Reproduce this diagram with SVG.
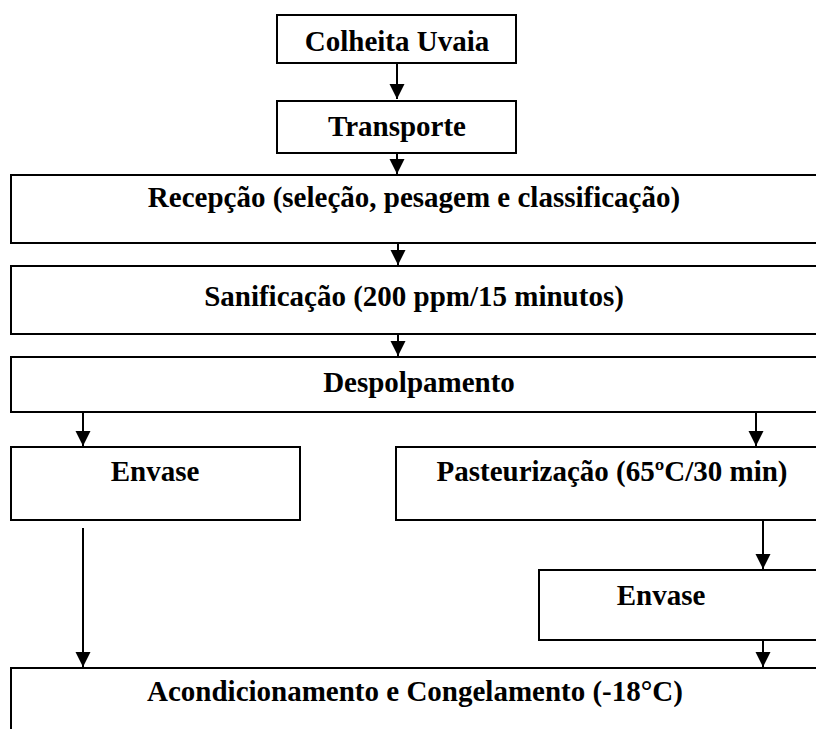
<svg xmlns="http://www.w3.org/2000/svg" width="816" height="729" viewBox="0 0 816 729">
<style>
.box{fill:#fff;stroke:#000;stroke-width:2}
.lbl{font-family:"Liberation Serif","Times New Roman",serif;font-weight:bold;font-size:29px;fill:#000;text-anchor:middle}
.con{stroke:#000;stroke-width:2;fill:none;marker-end:url(#ah)}
</style>
<defs>
<marker id="ah" markerUnits="userSpaceOnUse" markerWidth="16" markerHeight="16" refX="15" refY="7.5" orient="auto">
<path d="M0,0 L15,7.5 L0,15 Z" fill="#000"/>
</marker>
</defs>
<rect width="816" height="729" fill="#fff"/>
<g id="colheita"><rect class="box" x="277" y="15" width="239" height="48"/><text class="lbl" x="397" y="51">Colheita Uvaia</text></g>
<g id="transporte"><rect class="box" x="277" y="101" width="239" height="52"/><text class="lbl" x="397" y="136">Transporte</text></g>
<g id="recepcao"><rect class="box" x="11" y="175" width="830" height="68"/><text class="lbl" x="414" y="207">Recepção (seleção, pesagem e classificação)</text></g>
<g id="sanificacao"><rect class="box" x="11" y="266" width="830" height="68"/><text class="lbl" x="414" y="306">Sanificação (200 ppm/15 minutos)</text></g>
<g id="despolpamento"><rect class="box" x="11" y="357" width="830" height="55"/><text class="lbl" x="419" y="392">Despolpamento</text></g>
<g id="envase1"><rect class="box" x="11" y="447" width="289" height="73"/><text class="lbl" x="155" y="481">Envase</text></g>
<g id="pasteurizacao"><rect class="box" x="396" y="447" width="445" height="73"/><text class="lbl" x="612" y="481">Pasteurização (65ºC/30 min)</text></g>
<g id="envase2"><rect class="box" x="539" y="570" width="302" height="70"/><text class="lbl" x="661" y="605">Envase</text></g>
<g id="acondicionamento"><rect class="box" x="11" y="668" width="830" height="80"/><text class="lbl" x="415" y="701">Acondicionamento e Congelamento (-18°C)</text></g>
<g id="connectors">
<line class="con" x1="397" y1="63" x2="397" y2="99"/>
<line class="con" x1="397" y1="153" x2="397" y2="174"/>
<line class="con" x1="398" y1="243" x2="398" y2="265"/>
<line class="con" x1="398" y1="334" x2="398" y2="356"/>
<line class="con" x1="83" y1="412" x2="83" y2="446"/>
<line class="con" x1="756" y1="412" x2="756" y2="446"/>
<line class="con" x1="763" y1="520" x2="763" y2="569"/>
<line class="con" x1="763" y1="640" x2="763" y2="667"/>
<line class="con" x1="83" y1="528" x2="83" y2="667"/>
</g>
</svg>
